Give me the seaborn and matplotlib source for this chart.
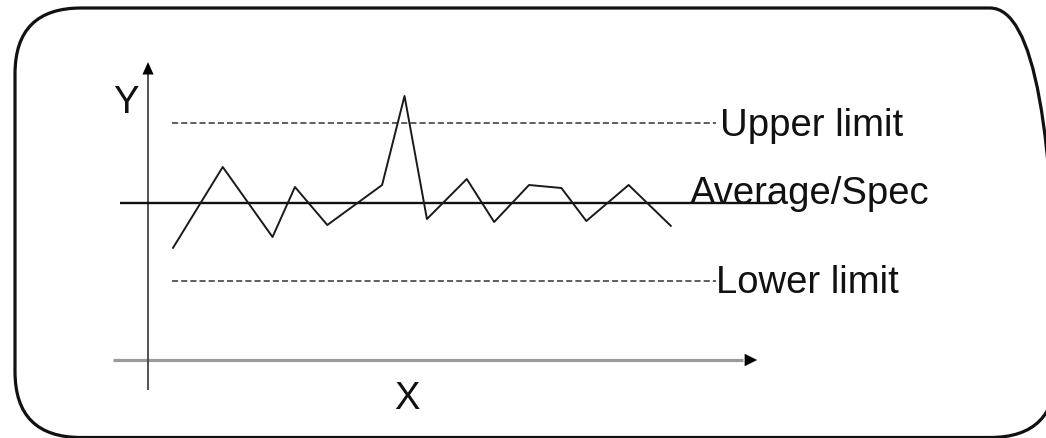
import numpy as np
import pandas as pd
import matplotlib
matplotlib.use("Agg")
import matplotlib.pyplot as plt
from matplotlib.patches import FancyBboxPatch
from matplotlib.transforms import IdentityTransform
import seaborn as sns

# ---- data ----
sample_x = [1.0, 3.0, 5.0, 5.9, 7.2, 9.4, 10.3, 11.2, 12.8, 13.9, 15.3, 16.6, 17.6, 19.3, 21.0]
sample_y = [7.75, 11.8, 8.3, 10.8, 8.9, 10.9, 15.35, 9.2, 11.2, 9.05, 10.9, 10.75, 9.1, 10.9, 8.85]
upper_limit = 14.0
average_spec = 10.0
lower_limit = 6.1
limit_labels = ["Upper limit", "Average/Spec", "Lower limit"]
x_label = "X"
y_label = "Y"

df = pd.DataFrame({"x": sample_x, "y": sample_y})

sns.set_style("white")
plt.rcParams["font.family"] = ["Liberation Sans", "DejaVu Sans"]

W, H, DPI = 1046, 439, 100
fig = plt.figure(figsize=(W / DPI, H / DPI), dpi=DPI)
ax = fig.add_axes([0, 0, 1, 1])
ax.set_xlim(-5.944, 36.06)
ax.set_ylim(-1.75, 20.2)
ax.axis("off")

# rounded frame (in pixels)
frame = FancyBboxPatch((15, 0.5), 1041, 429.5,
                       boxstyle="round,pad=0,rounding_size=66",
                       transform=IdentityTransform(), fill=False,
                       edgecolor="#111111", linewidth=2.3)
fig.patches.append(frame)

# axes arrows
ax_y = 2.15
ax.plot([-1.41, 23.9], [ax_y, ax_y], color="#9a9a9a", lw=2.3, solid_capstyle="butt")
ax.annotate("", xy=(24.46, ax_y), xytext=(23.8, ax_y),
            arrowprops=dict(arrowstyle="-|>,head_length=9,head_width=4.5",
                            mutation_scale=1, color="black", lw=0,
                            shrinkA=0, shrinkB=0))
ax.plot([0, 0], [0.65, 16.5], color="#444444", lw=1.3, solid_capstyle="butt")
ax.annotate("", xy=(0, 17.05), xytext=(0, 16.4),
            arrowprops=dict(arrowstyle="-|>,head_length=9,head_width=4",
                            mutation_scale=1, color="black", lw=0,
                            shrinkA=0, shrinkB=0))

# limits
ax.hlines(upper_limit, 0.96, 22.8, color="#333333", lw=1.1, linestyles=(0, (4.0, 2.0)))
ax.hlines(lower_limit, 0.96, 22.8, color="#333333", lw=1.1, linestyles=(0, (4.0, 2.0)))
ax.hlines(average_spec, -1.12, 25.26, color="#111111", lw=1.7)

# data line
sns.lineplot(data=df, x="x", y="y", ax=ax, color="#1a1a1a", lw=1.4, sort=False)

# texts
fs = 27.5
ax.text(22.97, 13.4, limit_labels[0], fontsize=fs, ha="left", va="baseline", color="#111111")
ax.text(21.77, 10.0, limit_labels[1], fontsize=fs, ha="left", va="baseline", color="#111111")
ax.text(22.81, 5.55, limit_labels[2], fontsize=fs, ha="left", va="baseline", color="#111111")
ax.text(-0.88, 14.55, y_label, fontsize=fs, ha="center", va="baseline", color="#111111")
ax.text(10.4, -0.25, x_label, fontsize=fs, ha="center", va="baseline", color="#111111")

fig.savefig("out.png", dpi=DPI, facecolor="white")
